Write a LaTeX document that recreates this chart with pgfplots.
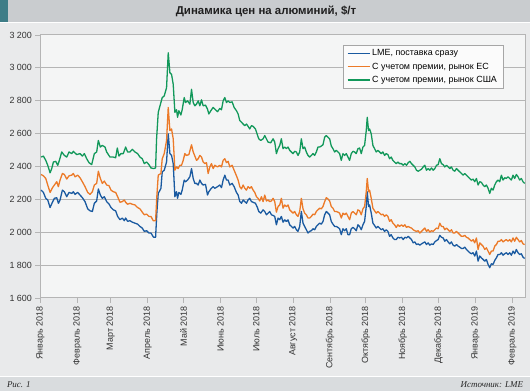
\documentclass[border=0pt]{standalone}
\usepackage{pgfplots}
\pgfplotsset{compat=1.18}
\usetikzlibrary{calc}
\usepackage{fontspec}
\setmainfont{Liberation Sans}
\newfontfamily\serifit{Liberation Serif}
\definecolor{bgc}{HTML}{E9EAEB}
\definecolor{plotbg}{HTML}{F4F5F5}
\definecolor{titlebar}{HTML}{C9CCCF}
\definecolor{titleteal}{HTML}{3E7D87}
\definecolor{footbar}{HTML}{D9DCDE}
\definecolor{gridc}{HTML}{B5B5B5}
\definecolor{lmeblue}{HTML}{1A5AA0}
\definecolor{euorange}{HTML}{EC7A28}
\definecolor{usgreen}{HTML}{12985A}
\pgfdeclarelayer{background}
\pgfsetlayers{background,main}
\begin{document}
\begin{tikzpicture}
\begin{axis}[
  scale only axis,
  width=485.5bp, height=263.5bp,
  xmin=0, xmax=406.5, ymin=1600, ymax=3200,
  axis background/.style={fill=plotbg},
  ytick={1600,1800,2000,2200,2400,2600,2800,3000,3200},
  yticklabels={1 600,1 800,2 000,2 200,2 400,2 600,2 800,3 000,3 200},
  xtick={0,31,59,90,120,151,181,212,243,273,304,334,365,396},
  xticklabels={Январь 2018,Февраль 2018,Март 2018,Апрель 2018,Май 2018,Июнь 2018,Июль 2018,Август 2018,Сентябрь 2018,Октябрь 2018,Ноябрь 2018,Декабрь 2018,Январь 2019,Февраль 2019},
  x tick label style={rotate=90, anchor=east, font=\fontsize{9}{10}\selectfont, text=black!80},
  y tick label style={font=\fontsize{9}{10}\selectfont, text=black!80},
  tick align=outside, xtick pos=left, ytick pos=left,
  major tick length=5bp,
  tick style={gridc, line width=0.8bp},
  ymajorgrids, grid style={gridc, line width=0.9bp},
  axis line style={gridc, line width=0.9bp},
  legend style={at={(axis description cs:0.624,0.962)}, anchor=north west, draw=gray!70, fill=white!60!plotbg, font=\fontsize{9}{10}\selectfont, inner xsep=4bp, inner ysep=2.5bp, row sep=1.6bp, cells={anchor=west}},
  legend image code/.code={\draw[#1, line width=1.3bp] (0bp,0bp) -- (22bp,0bp);},
  every axis plot/.append style={line width=1.3bp, line join=round},
]
\addplot[lmeblue] coordinates {(0.56,2256)(2.51,2242)(4.47,2206)(6.14,2196)(8.10,2150)(10.05,2182)(11.73,2206)(13.68,2210)(15.08,2176)(16.47,2196)(18.43,2256)(20.10,2246)(22.06,2216)(24.01,2242)(26.24,2236)(27.64,2246)(29.04,2230)(31.27,2242)(33.23,2226)(35.18,2210)(37.41,2186)(39.65,2142)(41.60,2130)(43.56,2126)(45.23,2176)(47.18,2190)(48.58,2263)(50.26,2226)(51.93,2206)(53.61,2216)(55.56,2186)(57.52,2172)(59.19,2150)(61.14,2136)(63.10,2130)(64.77,2096)(66.73,2076)(68.68,2086)(70.36,2070)(71.48,2086)(73.15,2066)(75.11,2070)(77.06,2061)(79.29,2055)(81.53,2049)(83.48,2035)(85.44,2025)(87.11,2005)(89.07,2009)(91.02,1995)(92.70,1995)(94.93,1969)(96.60,1969)(97.72,2126)(98.83,2236)(101.06,2266)(102.18,2367)(103.86,2377)(105.81,2427)(107.21,2598)(108.60,2478)(110.0,2467)(111.39,2417)(112.79,2216)(114.19,2246)(115.02,2206)(116.14,2242)(117.82,2230)(118.93,2256)(120.61,2317)(121.72,2307)(123.40,2317)(125.35,2337)(126.75,2387)(128.15,2327)(129.54,2297)(130.94,2297)(132.33,2287)(133.73,2317)(135.13,2297)(136.52,2287)(138.48,2291)(140.15,2226)(141.27,2246)(142.94,2263)(144.90,2277)(146.29,2267)(148.53,2277)(150.48,2287)(151.88,2271)(153.27,2317)(154.67,2347)(156.07,2317)(157.46,2317)(158.86,2287)(160.81,2297)(162.49,2277)(164.44,2242)(165.84,2226)(167.23,2186)(168.63,2176)(170.03,2196)(171.42,2186)(172.82,2176)(174.21,2196)(175.61,2206)(177.01,2186)(178.40,2182)(180.36,2176)(182.03,2150)(183.15,2126)(184.82,2116)(186.78,2136)(188.17,2126)(189.57,2106)(190.97,2116)(192.36,2126)(193.76,2106)(195.15,2102)(196.55,2096)(197.95,2045)(199.34,2086)(200.74,2076)(202.13,2096)(203.52,2061)(204.91,2075)(206.31,2065)(207.71,2075)(209.10,2045)(210.50,2035)(211.89,2025)(213.29,2035)(214.69,2015)(216.08,2005)(217.48,2035)(218.87,2126)(220.27,2055)(221.67,2035)(223.06,2015)(224.46,1995)(225.85,2005)(227.25,2009)(228.65,2021)(230.04,2015)(231.44,2035)(232.83,2045)(234.23,2055)(235.63,2049)(237.02,2065)(238.42,2106)(239.81,2126)(241.21,2116)(242.61,2106)(244.0,2065)(245.40,2049)(246.79,2035)(248.19,2035)(249.59,2029)(250.98,2021)(252.38,1985)(253.77,2021)(255.17,2009)(256.57,2021)(257.96,1985)(259.36,1985)(260.75,2021)(262.15,2029)(263.55,2021)(264.94,2009)(266.34,2045)(267.73,2035)(269.13,2015)(270.53,2045)(271.92,2065)(273.32,2156)(274.15,2246)(275.27,2156)(276.11,2166)(277.50,2116)(278.90,2055)(280.30,2041)(281.69,2025)(283.09,2035)(284.49,2025)(285.88,2015)(287.28,2021)(288.67,2005)(290.07,2015)(291.47,2005)(292.86,1975)(294.26,1985)(295.65,1965)(297.05,1955)(298.45,1955)(299.84,1969)(301.24,1965)(302.91,1969)(304.30,1955)(305.70,1969)(307.09,1965)(308.49,1975)(309.89,1965)(311.28,1955)(312.68,1935)(314.07,1941)(315.47,1925)(316.87,1929)(318.26,1921)(319.66,1929)(321.05,1935)(322.45,1941)(323.85,1925)(325.24,1935)(326.64,1921)(328.03,1929)(329.43,1925)(330.83,1941)(332.22,1949)(333.62,1955)(335.01,1981)(336.41,1969)(337.81,1965)(339.20,1945)(340.60,1955)(341.99,1941)(343.39,1929)(344.79,1941)(346.18,1921)(347.58,1915)(348.97,1925)(350.37,1915)(351.77,1909)(353.16,1901)(354.56,1901)(355.95,1909)(357.35,1895)(358.75,1885)(360.14,1875)(361.54,1869)(362.93,1875)(364.33,1855)(365.73,1885)(367.12,1824)(368.52,1855)(369.91,1844)(371.31,1834)(372.71,1824)(374.10,1834)(375.50,1804)(376.89,1784)(378.29,1808)(379.69,1804)(381.08,1828)(382.48,1844)(383.87,1864)(385.27,1864)(386.67,1875)(388.06,1860)(389.46,1869)(390.85,1875)(392.25,1864)(393.65,1875)(395.04,1860)(396.44,1885)(397.83,1869)(399.23,1895)(400.63,1875)(402.02,1864)(403.42,1869)(404.81,1848)(406.21,1840)};
\addlegendentry{LME, поставка сразу}
\addplot[euorange] coordinates {(0.56,2351)(2.51,2343)(4.47,2327)(6.14,2287)(8.10,2242)(10.05,2270)(11.73,2287)(13.68,2307)(15.08,2277)(16.47,2317)(18.43,2357)(20.10,2351)(22.06,2323)(24.01,2343)(26.24,2347)(27.64,2357)(29.04,2337)(31.27,2347)(33.23,2331)(35.18,2307)(37.41,2277)(39.65,2242)(41.60,2230)(43.56,2246)(45.23,2287)(47.18,2297)(48.58,2371)(50.26,2327)(51.93,2297)(53.61,2311)(55.56,2287)(57.52,2283)(59.19,2256)(61.14,2246)(63.10,2242)(64.77,2216)(66.73,2182)(68.68,2186)(70.36,2196)(71.48,2182)(73.15,2170)(75.11,2176)(77.06,2170)(79.29,2166)(81.53,2150)(83.48,2142)(85.44,2122)(87.11,2106)(89.07,2110)(91.02,2096)(92.70,2096)(94.65,2070)(96.60,2070)(97.72,2226)(98.83,2347)(101.06,2357)(102.18,2447)(103.86,2478)(105.81,2558)(107.21,2759)(108.60,2618)(110.0,2628)(111.39,2568)(112.79,2377)(114.19,2397)(115.58,2387)(116.98,2407)(118.37,2407)(119.77,2437)(121.17,2478)(122.56,2467)(124.52,2472)(126.75,2532)(128.15,2488)(129.54,2463)(130.94,2437)(132.33,2447)(133.73,2467)(135.13,2457)(136.52,2427)(137.92,2417)(139.31,2423)(140.71,2357)(142.11,2397)(143.50,2417)(144.90,2387)(146.29,2407)(148.53,2397)(150.48,2407)(151.88,2397)(153.27,2437)(154.67,2447)(156.07,2423)(157.46,2431)(158.86,2397)(160.81,2407)(162.49,2377)(164.44,2343)(165.84,2317)(167.23,2277)(168.63,2263)(170.03,2287)(171.42,2267)(172.82,2256)(174.21,2277)(175.61,2267)(177.01,2277)(178.40,2256)(179.80,2242)(181.20,2216)(182.59,2206)(183.99,2190)(185.38,2216)(186.78,2186)(188.17,2226)(189.57,2190)(190.97,2196)(192.36,2186)(193.76,2190)(195.15,2206)(196.55,2186)(197.95,2122)(199.34,2156)(200.74,2166)(202.13,2206)(203.52,2146)(204.91,2166)(206.31,2156)(207.71,2166)(209.10,2136)(210.50,2126)(211.89,2116)(213.29,2126)(214.69,2106)(216.08,2096)(217.48,2126)(218.87,2206)(220.27,2142)(221.67,2116)(223.06,2106)(224.46,2086)(225.85,2086)(227.25,2096)(228.65,2110)(230.04,2106)(231.44,2126)(232.83,2136)(234.23,2146)(235.63,2142)(237.02,2156)(238.42,2186)(239.81,2210)(241.21,2202)(242.61,2190)(244.0,2156)(245.40,2146)(246.79,2126)(248.19,2126)(249.59,2122)(250.98,2116)(252.38,2086)(253.77,2116)(255.17,2106)(256.57,2116)(257.96,2096)(259.36,2076)(260.75,2116)(262.15,2126)(263.55,2116)(264.94,2106)(266.34,2136)(267.73,2130)(269.13,2106)(270.53,2142)(271.92,2156)(273.32,2246)(274.15,2327)(275.27,2246)(276.11,2256)(277.50,2206)(278.90,2146)(280.30,2130)(281.69,2116)(283.09,2126)(284.49,2116)(285.88,2106)(287.28,2110)(288.67,2096)(290.07,2106)(291.47,2096)(292.86,2066)(294.26,2076)(295.65,2055)(297.05,2045)(298.45,2029)(299.84,2045)(301.24,2035)(302.91,2045)(304.30,2035)(305.70,2045)(307.09,2029)(308.49,2035)(309.89,2029)(311.28,2025)(312.68,2015)(314.07,2009)(315.47,2005)(316.87,2009)(318.26,1995)(319.66,2005)(321.05,2015)(322.45,2025)(323.85,2005)(325.24,2015)(326.64,2001)(328.03,2009)(329.43,2005)(330.83,2015)(332.22,2025)(333.62,2021)(335.01,2055)(336.41,2035)(337.81,2035)(339.20,2015)(340.60,2025)(341.99,2015)(343.39,2005)(344.79,2015)(346.18,1995)(347.58,1995)(348.97,2005)(350.37,1995)(351.77,1985)(353.16,1975)(354.56,1975)(355.95,1981)(357.35,1969)(358.75,1965)(360.14,1955)(361.54,1945)(362.93,1955)(364.33,1935)(365.73,1965)(367.12,1895)(368.52,1935)(369.91,1925)(371.31,1915)(372.71,1895)(374.10,1905)(375.50,1885)(376.89,1864)(378.29,1885)(379.69,1885)(381.08,1915)(382.48,1925)(383.87,1945)(385.27,1945)(386.67,1955)(388.06,1941)(389.46,1949)(390.85,1955)(392.25,1945)(393.65,1955)(395.04,1941)(396.44,1965)(397.83,1945)(399.23,1969)(400.63,1955)(402.02,1941)(403.42,1949)(404.81,1929)(406.21,1925)};
\addlegendentry{С учетом премии, рынок ЕС}
\addplot[usgreen] coordinates {(0.56,2457)(2.51,2463)(4.47,2437)(6.14,2407)(8.10,2361)(9.49,2387)(10.89,2427)(12.84,2431)(14.52,2407)(15.91,2437)(17.87,2488)(20.10,2467)(22.06,2457)(24.01,2488)(26.24,2478)(27.64,2492)(30.43,2472)(33.23,2478)(35.18,2463)(36.85,2478)(38.81,2447)(40.76,2423)(43.00,2411)(45.23,2478)(47.18,2488)(48.58,2558)(50.26,2518)(51.93,2528)(54.17,2518)(55.56,2488)(58.35,2457)(61.14,2457)(63.10,2453)(64.49,2512)(65.89,2463)(67.57,2478)(69.52,2478)(71.48,2518)(73.15,2488)(75.11,2488)(77.06,2504)(79.29,2488)(81.53,2478)(83.48,2457)(85.44,2447)(87.11,2417)(89.07,2427)(91.02,2411)(92.70,2391)(94.93,2387)(96.60,2391)(97.44,2568)(98.83,2729)(101.06,2789)(102.18,2819)(103.86,2829)(105.81,2879)(107.21,3091)(108.60,2970)(110.0,2960)(111.39,2900)(112.79,2729)(114.19,2745)(115.02,2699)(116.14,2739)(117.82,2713)(118.93,2745)(120.61,2819)(121.72,2789)(123.40,2799)(125.35,2779)(126.75,2869)(128.15,2789)(129.54,2769)(130.94,2779)(132.33,2799)(133.73,2769)(135.13,2805)(136.52,2769)(138.48,2773)(140.15,2749)(141.27,2719)(142.94,2739)(144.90,2759)(146.29,2749)(148.53,2733)(150.48,2753)(151.88,2745)(153.27,2799)(154.67,2819)(156.07,2789)(157.46,2799)(158.86,2789)(160.81,2793)(162.49,2759)(164.44,2739)(165.84,2719)(167.23,2679)(168.63,2669)(170.03,2658)(171.42,2648)(172.82,2658)(174.21,2644)(175.61,2628)(177.01,2648)(178.40,2644)(180.36,2628)(182.03,2592)(183.15,2568)(184.82,2558)(186.78,2568)(188.17,2588)(189.57,2568)(190.97,2548)(193.20,2544)(195.15,2568)(196.55,2548)(197.95,2478)(199.34,2508)(200.74,2528)(202.13,2568)(203.52,2508)(204.91,2518)(206.31,2508)(207.71,2518)(209.10,2498)(210.50,2488)(211.89,2478)(213.29,2492)(214.69,2488)(216.08,2467)(217.48,2488)(218.87,2568)(220.27,2508)(221.67,2518)(223.06,2488)(224.46,2467)(225.85,2457)(227.25,2467)(228.65,2478)(230.04,2467)(231.44,2488)(232.83,2518)(234.23,2518)(235.63,2524)(237.02,2532)(238.42,2578)(239.81,2588)(241.21,2578)(242.61,2568)(244.0,2524)(245.40,2508)(246.79,2488)(248.19,2498)(249.59,2488)(250.98,2478)(252.38,2437)(253.77,2478)(255.17,2467)(256.57,2478)(257.96,2457)(259.36,2437)(260.75,2478)(262.15,2492)(263.55,2488)(264.94,2478)(266.34,2508)(267.73,2512)(269.13,2478)(270.53,2518)(271.92,2528)(273.32,2618)(274.15,2699)(275.27,2618)(276.11,2628)(277.50,2598)(278.90,2528)(280.30,2508)(281.69,2488)(283.09,2498)(284.49,2488)(285.88,2478)(287.28,2488)(288.67,2467)(290.07,2478)(291.47,2472)(292.86,2447)(294.26,2457)(295.65,2437)(297.05,2427)(298.45,2417)(299.84,2427)(301.24,2417)(302.91,2417)(304.30,2407)(305.70,2417)(307.09,2407)(308.49,2423)(309.89,2431)(311.28,2417)(312.68,2407)(314.07,2397)(315.47,2377)(316.87,2371)(318.26,2377)(319.66,2383)(321.05,2397)(322.45,2407)(323.85,2377)(325.24,2387)(326.64,2377)(328.03,2391)(329.43,2377)(330.83,2387)(332.22,2407)(333.62,2411)(335.01,2447)(336.41,2417)(337.81,2411)(339.20,2397)(340.60,2407)(341.99,2397)(343.39,2387)(344.79,2397)(346.18,2377)(347.58,2371)(348.97,2387)(350.37,2377)(351.77,2367)(353.16,2357)(354.56,2347)(355.95,2357)(357.35,2347)(358.75,2337)(360.14,2327)(361.54,2317)(362.93,2323)(364.33,2307)(365.73,2327)(367.12,2287)(368.52,2307)(369.91,2303)(371.31,2287)(372.71,2277)(374.10,2287)(375.50,2267)(376.89,2236)(378.29,2267)(379.69,2256)(381.08,2287)(382.48,2307)(383.87,2317)(385.27,2307)(386.67,2347)(388.06,2317)(389.46,2331)(390.85,2327)(392.25,2337)(393.65,2327)(395.04,2317)(396.44,2347)(397.83,2327)(399.23,2351)(400.63,2337)(402.02,2317)(403.42,2327)(404.81,2307)(406.21,2297)};
\addlegendentry{С учетом премии, рынок США}
\coordinate (O) at (rel axis cs:0,0);
\end{axis}
\begin{scope}[x=1bp, y=1bp, shift={($(O)+(-40bp,-93.5bp)$)}]
\begin{pgfonlayer}{background}
\fill[bgc] (0,0) rectangle (530,392);
\fill[titlebar] (0,370) rectangle (530,392);
\fill[titleteal] (0,370) rectangle (8,392);
\draw[white, line width=1bp] (0,369.5) -- (530,369.5);
\fill[footbar] (0,0) rectangle (530,14);
\draw[white,line width=1bp] (0,14.5) -- (530,14.5);
\end{pgfonlayer}
\node[font=\bfseries\fontsize{11.5}{13}\selectfont, text=black!88] at (266,381) {Динамика цен на алюминий, \$/т};
\node[anchor=west, font=\serifit\itshape\fontsize{9}{10}\selectfont, text=black!85] at (3,7) {Рис. 1};
\node[anchor=east, font=\serifit\itshape\fontsize{9}{10}\selectfont, text=black!85] at (527,7) {Источник: LME};
\end{scope}
\end{tikzpicture}
\end{document}
